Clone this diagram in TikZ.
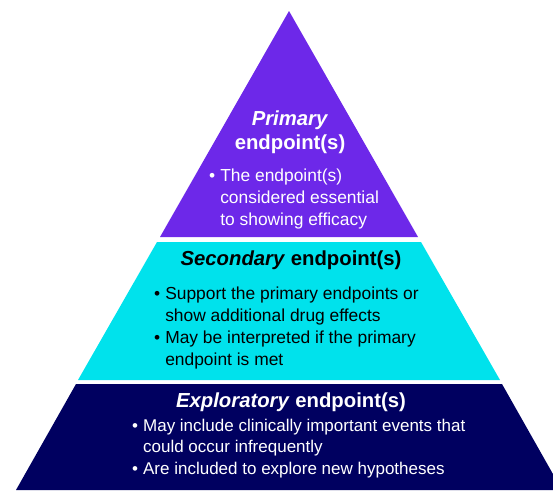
\documentclass[tikz,border=0pt]{standalone}
\usepackage{fontspec}
\setmainfont{Liberation Sans}
\definecolor{tierA}{HTML}{6D28E9}
\definecolor{tierB}{HTML}{00E2EC}
\definecolor{tierC}{HTML}{000060}
\begin{document}
\begin{tikzpicture}[x=1pt,y=-1pt,
  title/.style={font=\fontsize{20.3}{24}\selectfont\bfseries, inner sep=0pt, align=center},
  body/.style={font=\fontsize{17.4}{22}\selectfont, inner sep=0pt, align=left, anchor=base west},
]
\useasboundingbox (0,0) rectangle (553,490);
% tiers
\fill[tierA] (289,11) -- (418,237) -- (160,237) -- cycle;
\fill[tierB] (157,242) -- (421,242) -- (500,380) -- (78,380) -- cycle;
\fill[tierC] (76,384) -- (502,384) -- (562,490) -- (16,490) -- cycle;
% primary
\node[title, text=white] (pt) at (290,132) {\textit{Primary}\\endpoint(s)};
\node[body, text=white] (pb) at (209,181) {\begin{tabular}[t]{@{}l@{\hspace{5pt}}l@{}}•&The endpoint(s)\\&considered essential\\&to showing efficacy\end{tabular}};
% secondary
\node[title, text=black] (st) at (291,260) {\textit{Secondary} endpoint(s)};
\node[body, text=black, font=\fontsize{17.4}{22.2}\selectfont] (sb) at (154,299) {\begin{tabular}[t]{@{}l@{\hspace{5pt}}l@{}}•&Support the primary endpoints or\\&show additional drug effects\\•&May be interpreted if the primary\\&endpoint is met\end{tabular}};
% exploratory
\node[title, text=white] (et) at (291,402) {\textit{Exploratory} endpoint(s)};
\node[body, text=white, font=\fontsize{17}{21.5}\selectfont] (eb) at (132,431) {\begin{tabular}[t]{@{}l@{\hspace{5pt}}l@{}}•&May include clinically important events that\\&could occur infrequently\\•&Are included to explore new hypotheses\end{tabular}};
\end{tikzpicture}
\end{document}
